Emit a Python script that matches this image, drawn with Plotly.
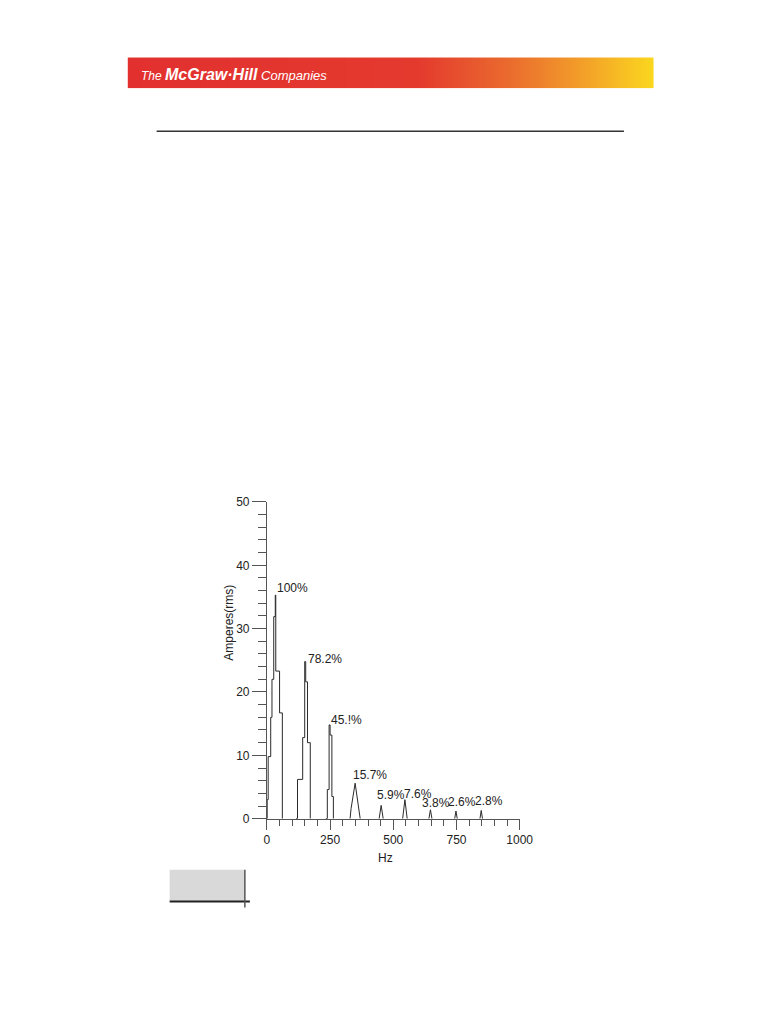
import plotly.graph_objects as go

# page is 781x1024; the html body keeps an 8 px margin, so the figure is 16 px smaller
PAGE_W, PAGE_H, BODY = 781, 1024, 8
W, H = PAGE_W - 2 * BODY, PAGE_H - 2 * BODY
# measured relation between figure pixels and the photographed page
SX, OX = 0.975, 11.8
SY, OY = 0.987, 14.6

# ---- data ----
# stepped outlines: bin edge (Hz) -> amplitude (A rms) from that edge on
fund_hz = [0, 1, 5, 15, 20, 27, 33, 35, 50, 61]
fund_amp = [0, 3.0, 9.8, 16.0, 22.0, 31.9, 35.3, 23.3, 16.7, 0]

h3_hz = [115, 121, 141.5, 149.5, 153.5, 160.5, 171.5]
h3_amp = [0, 6.2, 12.8, 24.8, 21.6, 12.0, 0]

h5_hz = [233, 239, 246, 250, 257, 263]
h5_amp = [0, 4.6, 14.8, 13.2, 3.5, 0]

# sharper peaks drawn point-to-point
h7_hz = [329, 333, 349, 365, 369]
h7_amp = [0, 1.6, 5.6, 0.8, 0]
h9_hz = [444, 452, 460]
h9_amp = [0, 2.1, 0]
h11_hz = [537, 546, 555]
h11_amp = [0, 3.0, 0]
h13_hz = [641, 647, 653]
h13_amp = [0, 1.4, 0]
h15_hz = [743, 748, 753]
h15_amp = [0, 1.2, 0]
h17_hz = [843, 848, 853]
h17_amp = [0, 1.3, 0]

pct_labels = ["100%", "78.2%", "45.!%", "15.7%", "5.9%", "7.6%", "3.8%", "2.6%", "2.8%"]

x_ticks = [0, 250, 500, 750, 1000]
y_ticks = [0, 10, 20, 30, 40, 50]


def px(x):
    return ((x - OX) / SX) / W


def py(y):
    return 1 - ((y - OY) / SY) / H


LINE = "#2a2a2a"
AX = "#555555"
FONT = "Liberation Sans, Arial, sans-serif"

fig = go.Figure()

for xs, ys in [(fund_hz, fund_amp), (h3_hz, h3_amp), (h5_hz, h5_amp)]:
    fig.add_trace(go.Scatter(x=xs, y=ys, mode="lines", line=dict(color=LINE, width=1, shape="hv"),
                             showlegend=False, hoverinfo="skip"))
for xs, ys in [(h7_hz, h7_amp), (h9_hz, h9_amp), (h11_hz, h11_amp), (h13_hz, h13_amp),
               (h15_hz, h15_amp), (h17_hz, h17_amp)]:
    fig.add_trace(go.Scatter(x=xs, y=ys, mode="lines", line=dict(color=LINE, width=1),
                             showlegend=False, hoverinfo="skip"))

# labels anchored on each peak
peaks = [(fund_hz, fund_amp), (h3_hz, h3_amp), (h5_hz, h5_amp), (h7_hz, h7_amp), (h9_hz, h9_amp),
         (h11_hz, h11_amp), (h13_hz, h13_amp), (h15_hz, h15_amp), (h17_hz, h17_amp)]
shifts = [(0, 7), (1, 3), (0, 5), (-4, 8), (-6, 10), (-3, 6), (-10, 7), (-10, 9), (-8, 9)]
for lab, (xs, ys), (dx, dy) in zip(pct_labels, peaks, shifts):
    i = max(range(len(ys)), key=lambda k: ys[k])
    fig.add_annotation(x=xs[i], y=ys[i], xref="x", yref="y", text=lab, showarrow=False,
                       xanchor="left", yanchor="middle", xshift=dx, yshift=dy,
                       font=dict(family=FONT, size=12, color="#222"))

# banner gradient (heatmap on its own axes)
fig.add_trace(go.Heatmap(z=[[0, 1], [0, 1]], x=[0, 1], y=[0, 1], xaxis="x2", yaxis="y2",
                         zsmooth="best", showscale=False, hoverinfo="skip",
                         colorscale=[[0, "#E2302F"], [0.55, "#E43A2E"], [0.72, "#EA6A2E"],
                                     [0.85, "#F29A2A"], [1, "#FBD81E"]]))

fig.update_layout(
    width=W, height=H, margin=dict(l=0, r=0, t=0, b=0),
    paper_bgcolor="white", plot_bgcolor="rgba(0,0,0,0)",
    font=dict(family=FONT, size=12, color="#222"),
    xaxis=dict(domain=[px(267), px(519)], range=[0, 1000], showgrid=False, zeroline=False,
               showline=True, linecolor=AX, linewidth=1,
               tickmode="array", tickvals=x_ticks, ticktext=[str(v) for v in x_ticks],
               ticks="outside", ticklen=10, tickcolor=AX, tickwidth=1,
               minor=dict(dtick=50, ticklen=6, ticks="outside", tickcolor=AX, tickwidth=1, showgrid=False),
               tickfont=dict(size=12, color="#222")),
    yaxis=dict(domain=[py(819), py(502)], range=[0, 50], showgrid=False, zeroline=False,
               showline=True, linecolor=AX, linewidth=1,
               tickmode="array", tickvals=y_ticks, ticktext=[str(v) for v in y_ticks],
               ticks="outside", ticklen=14, tickcolor=AX, tickwidth=1,
               minor=dict(dtick=2, ticklen=8, ticks="outside", tickcolor=AX, tickwidth=1, showgrid=False),
               tickfont=dict(size=12, color="#222")),
    xaxis2=dict(domain=[px(128), px(653)], range=[0, 1], visible=False, fixedrange=True, anchor="y2"),
    yaxis2=dict(domain=[py(88), py(57)], range=[0, 1], visible=False, fixedrange=True, anchor="x2"),
)

# axis titles
fig.add_annotation(x=px(385), y=py(858), xref="paper", yref="paper", text="Hz", showarrow=False,
                   xanchor="center", yanchor="middle",
                   font=dict(family=FONT, size=12, color="#222"))
fig.add_annotation(x=px(229), y=py(623), xref="paper", yref="paper", text="Amperes(rms)",
                   showarrow=False, textangle=-90, xanchor="center", yanchor="middle",
                   font=dict(family=FONT, size=12, color="#222"))

# banner text
fig.add_annotation(x=px(139), y=py(74), xref="paper", yref="paper", xanchor="left", yanchor="middle",
                   showarrow=False,
                   text="<i><span style='font-size:12px'>The </span><b><span style='font-size:16px'>McGraw·Hill</span></b>"
                        "<span style='font-size:13px'> Companies</span></i>",
                   font=dict(family=FONT, size=13, color="white"))

# page rule and bottom box
fig.add_shape(type="line", xref="paper", yref="paper", x0=px(157), x1=px(623), y0=py(131), y1=py(131),
              line=dict(color="#333", width=1.5))
fig.add_shape(type="rect", xref="paper", yref="paper", x0=px(170), x1=px(245), y0=py(902), y1=py(870),
              fillcolor="#D9D9D9", line=dict(width=0), layer="below")
fig.add_shape(type="line", xref="paper", yref="paper", x0=px(170), x1=px(250), y0=py(902), y1=py(902),
              line=dict(color="#222", width=2))
fig.add_shape(type="line", xref="paper", yref="paper", x0=px(245), x1=px(245), y0=py(870), y1=py(908),
              line=dict(color="#555", width=1.5))

fig.write_html("out.html")
